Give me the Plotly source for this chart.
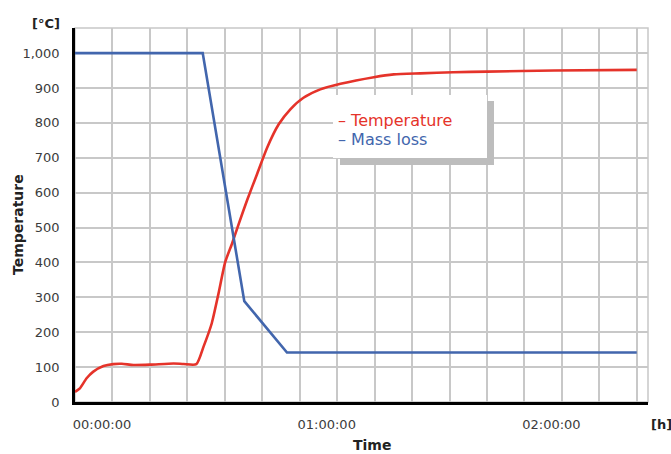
import plotly.graph_objects as go

# ---- data (time in minutes) ----
temp_time = [0, 1.3, 3.1, 4.9, 7.6, 10.2, 12.5, 15.6, 20, 26.3, 29, 32.4, 34.3, 36.5, 38.3,
             40.1, 41.9, 43.7, 45.9, 48.6, 51.3, 54.4, 57.5, 61, 65.5, 70.9, 79.8, 85.1,
             92.2, 101, 110, 128, 150]
temp_vals = [29, 39, 68, 87, 103, 108.6, 109.5, 106, 107, 110.5, 109, 108.5, 158, 225, 310,
             401, 453, 510, 577, 653, 729, 796, 839, 872, 896, 912, 931, 939,
             942, 945, 947, 950, 952]

mass_time = [0, 34.1, 45.2, 56.6, 150]
mass_vals = [1000, 1000, 289, 142, 142]

x_tick_vals = [0, 60, 120]
x_tick_text = ["00:00:00", "01:00:00", "02:00:00"]

RED = "#e5332a"
BLUE = "#4266ad"
FONT = "DejaVu Sans"

# page geometry (pixels in the browser window)
L, R, T, B = 75, 648, 28, 402
W, H = 671, 454


def px_x(px):
    return (px - L) / (R - L)


def px_y(py):
    return (B - py) / (B - T)


fig = go.Figure()
fig.add_trace(go.Scatter(x=temp_time, y=temp_vals, mode="lines", name="Temperature",
                         line=dict(color=RED, width=2.6, shape="spline", smoothing=0.6)))
fig.add_trace(go.Scatter(x=mass_time, y=mass_vals, mode="lines", name="Mass loss",
                         line=dict(color=BLUE, width=2.6)))

shapes = [
    dict(type="rect", xref="paper", yref="paper", x0=0, y0=0, x1=1, y1=1,
         line=dict(color="#c8c8c8", width=1.5), layer="below"),
    dict(type="rect", xref="paper", yref="paper", x0=px_x(340), x1=px_x(494),
         y0=px_y(165), y1=px_y(101), fillcolor="#bdbdbd", line=dict(width=0), layer="above"),
    dict(type="rect", xref="paper", yref="paper", x0=px_x(333), x1=px_x(487),
         y0=px_y(158), y1=px_y(95), fillcolor="white", line=dict(width=0), layer="above"),
]

annotations = [
    dict(text="– Temperature", x=px_x(336), y=px_y(120.5), xanchor="left", yanchor="middle",
         font=dict(family=FONT, size=16, color=RED)),
    dict(text="– Mass loss", x=px_x(336), y=px_y(139.5), xanchor="left", yanchor="middle",
         font=dict(family=FONT, size=16, color=BLUE)),
    dict(text="<b>[°C]</b>", x=px_x(46), y=px_y(24), xanchor="center", yanchor="middle",
         font=dict(family=FONT, size=13, color="#222222")),
    dict(text="<b>[h]</b>", x=px_x(649), y=px_y(424), xanchor="left", yanchor="middle",
         font=dict(family=FONT, size=13, color="#222222")),
    dict(text="<b>Time</b>", x=px_x(372), y=px_y(445), xanchor="center", yanchor="middle",
         font=dict(family=FONT, size=14, color="#222222")),
    dict(text="<b>Temperature</b>", x=px_x(18), y=px_y(225), xanchor="center", yanchor="middle",
         textangle=-90, font=dict(family=FONT, size=14, color="#222222")),
]
for a in annotations:
    a.update(xref="paper", yref="paper", showarrow=False)

fig.update_layout(
    width=W, height=H,
    margin=dict(l=L, r=W - R, t=T, b=H - B, pad=0),
    paper_bgcolor="white", plot_bgcolor="white",
    showlegend=False,
    font=dict(family=FONT, size=13, color="#3c3c3c"),
    shapes=shapes, annotations=annotations,
    xaxis=dict(range=[0, 153], tickvals=x_tick_vals, ticktext=x_tick_text,
               showgrid=True, gridcolor="#c8c8c8", gridwidth=1.5,
               minor=dict(dtick=10, showgrid=True, gridcolor="#c8c8c8", gridwidth=1.5),
               showline=True, linecolor="black", linewidth=2.5, zeroline=False,
               ticks="", ticklabelshift=27, ticklabelstandoff=9,
               tickfont=dict(family=FONT, size=13, color="#3c3c3c")),
    yaxis=dict(range=[0, 1072], dtick=100, tickformat=",",
               showgrid=True, gridcolor="#c8c8c8", gridwidth=1.5,
               showline=True, linecolor="black", linewidth=2.5, zeroline=False,
               ticks="", ticklabelstandoff=10,
               tickfont=dict(family=FONT, size=13, color="#3c3c3c")),
)

fig.write_html("out.html",
               config={"displayModeBar": False},
               post_script="document.body.style.margin='0';document.body.style.overflow='hidden';")
